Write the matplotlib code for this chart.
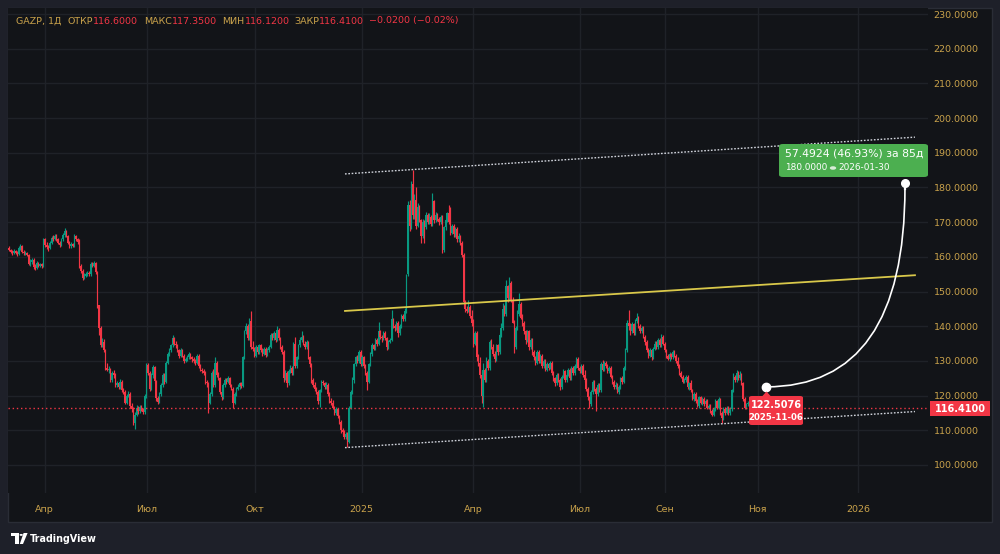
import matplotlib
matplotlib.use("Agg")
import matplotlib.pyplot as plt
from matplotlib.patches import FancyBboxPatch, Rectangle, Polygon, PathPatch, Circle
from matplotlib.path import Path
import numpy as np

# ---------------- data (daily GAZP candles) ----------------
opens = [
162.6,162.0,161.5,161.0,161.8,161.2,160.8,162.5,163.2,161.5,
161.0,161.2,160.5,158.0,158.5,159.2,157.0,156.8,158.2,157.5,
157.8,157.5,165.0,163.5,162.8,162.5,164.0,165.5,165.2,166.0,
165.0,164.0,163.5,165.0,166.2,167.5,166.0,164.0,163.0,163.6,
163.2,166.0,165.0,164.5,157.5,156.0,154.0,154.5,155.0,155.3,
155.0,158.0,157.5,158.2,155.5,146.0,139.5,134.5,135.5,133.0,
128.0,127.5,127.5,124.5,126.5,126.0,123.0,123.5,122.5,124.0,
121.5,121.0,118.0,120.0,120.5,117.0,116.0,112.0,114.5,116.5,
115.5,116.8,116.0,115.2,119.8,128.8,126.5,122.0,125.8,128.3,
124.2,119.2,118.2,120.5,123.0,126.0,124.0,129.5,132.0,133.0,
134.5,136.5,135.0,134.5,133.0,131.5,133.0,131.5,130.0,130.5,
131.0,132.0,131.0,130.5,130.0,129.5,131.5,128.5,127.5,127.0,
126.5,124.0,123.5,118.0,120.5,126.5,123.0,129.5,126.0,125.0,
121.0,119.5,123.0,124.5,124.0,125.0,123.0,122.0,118.0,120.5,
122.0,122.5,123.5,122.8,131.0,138.5,140.0,136.5,141.5,134.0,
133.5,131.5,134.0,132.5,134.5,133.0,132.0,133.5,131.8,133.0,
134.0,137.5,136.5,138.0,136.0,139.0,136.5,134.0,132.5,125.0,
126.5,123.5,127.0,128.0,126.5,135.0,128.5,131.0,134.5,136.0,
137.0,135.0,134.0,135.5,131.0,129.0,124.5,123.0,122.0,121.0,
118.5,121.5,124.0,123.5,122.5,123.0,120.5,118.5,118.0,116.5,
115.0,116.0,114.0,112.5,110.0,109.5,108.0,109.0,106.5,116.5,
121.0,124.5,129.0,131.0,130.0,132.5,129.0,131.0,128.5,126.5,
124.0,129.0,132.0,134.5,133.5,136.0,135.0,138.5,137.0,136.5,
138.0,136.5,134.0,135.5,136.0,142.0,140.0,139.5,141.0,138.0,
140.0,143.0,142.0,144.5,155.0,175.0,169.0,181.0,172.0,176.5,
169.0,174.5,170.5,166.0,170.0,168.5,172.0,170.0,171.5,169.5,
176.0,170.5,172.0,171.0,170.0,171.5,162.0,168.5,170.5,172.5,
170.0,167.0,169.0,166.5,168.0,165.0,166.0,164.0,160.5,147.0,
145.0,144.5,145.5,143.0,141.0,135.0,138.0,131.0,129.5,126.0,
120.0,127.5,124.5,130.0,128.0,135.5,134.0,132.0,130.5,134.5,
132.5,137.5,139.5,145.0,143.5,151.5,148.0,152.5,147.5,141.0,
134.0,139.5,143.5,146.5,142.5,141.0,138.5,136.0,138.5,134.0,
136.0,132.5,131.0,129.5,132.5,130.0,131.5,128.5,130.0,127.5,
129.0,128.0,129.5,126.5,125.0,123.5,126.0,124.5,122.5,125.5,
127.0,124.5,126.0,127.5,125.0,128.0,126.5,128.5,130.5,128.0,
127.0,128.5,126.0,124.5,122.0,119.5,117.5,121.0,124.0,122.0,
120.5,123.0,121.5,129.0,127.5,129.5,128.5,127.0,128.0,125.5,
124.0,122.5,123.0,121.0,122.5,125.0,124.0,128.0,133.0,141.0,
140.0,138.5,140.5,138.0,141.5,142.5,140.0,138.5,139.5,137.0,
135.5,133.0,131.5,133.0,131.0,133.5,135.0,134.0,136.0,134.5,
137.0,135.0,133.0,131.5,130.5,132.0,131.0,132.5,131.5,130.0,
128.5,126.5,125.5,124.0,124.5,125.5,122.5,123.5,121.5,119.0,
120.5,118.5,117.0,119.5,118.0,119.0,117.5,118.5,116.5,117.0,
115.5,114.5,116.0,118.5,116.5,119.0,115.0,113.5,116.0,115.0,
116.5,115.0,116.0,121.5,125.5,124.5,126.5,125.0,126.0,123.5,
119.0,116.5,117.5,118.0,116.6]

highs = [
163.0,162.4,161.9,162.3,162.0,161.6,163.0,163.7,163.4,161.9,
161.8,161.5,160.8,159.3,159.8,159.6,157.8,158.7,158.6,158.3,
158.2,165.5,165.4,164.2,163.3,164.5,166.0,166.2,166.5,166.6,
165.4,164.5,165.5,166.8,168.3,167.8,166.4,164.5,164.2,164.0,
166.6,166.3,165.4,165.0,158.0,156.5,155.2,155.6,155.8,155.8,
158.5,158.6,158.8,158.6,155.8,146.2,140.0,136.5,136.2,133.5,
129.5,128.4,128.0,127.0,127.3,126.5,124.2,124.0,124.8,124.5,
122.3,121.5,120.6,121.2,121.0,117.8,116.6,115.2,117.4,117.0,
117.4,117.2,116.5,120.5,129.3,129.5,127.0,126.5,128.8,128.6,
124.6,120.0,121.0,123.5,126.6,126.4,130.0,132.5,133.7,135.0,
137.5,136.8,135.6,135.0,133.5,133.6,133.4,132.0,131.2,131.6,
132.6,132.4,131.5,131.0,130.5,132.0,132.0,129.0,128.0,127.6,
127.0,124.6,124.0,121.0,127.0,127.8,131.0,130.0,126.8,125.5,
121.6,123.5,125.2,125.0,125.6,125.4,123.4,122.5,121.0,122.6,
123.2,124.0,124.0,131.5,139.0,141.0,140.6,142.3,144.4,135.8,
134.0,134.6,134.5,135.0,135.0,133.6,134.0,134.0,133.6,134.5,
138.0,138.0,138.6,138.4,140.2,139.5,137.0,134.6,133.0,127.5,
127.0,127.6,128.8,128.5,135.5,137.0,131.5,135.0,136.8,138.6,
137.5,135.6,136.0,135.8,131.5,129.5,125.0,123.8,122.6,121.5,
122.0,124.5,124.6,124.0,123.8,123.5,121.0,119.2,118.6,117.0,
116.8,116.4,114.5,113.0,110.8,110.0,109.6,109.5,117.0,121.7,
125.4,129.4,131.5,131.6,133.0,133.0,131.6,131.5,129.0,127.0,
129.5,132.5,135.2,135.0,136.5,136.6,141.2,139.0,137.5,138.6,
138.6,137.0,136.0,136.6,144.7,142.5,140.5,141.6,141.4,140.6,
143.6,143.6,145.3,155.0,176.0,176.5,182.0,185.0,178.0,180.0,
175.5,175.0,171.0,171.0,170.6,172.8,172.6,172.5,172.0,178.3,
176.5,173.0,172.6,171.6,172.0,172.0,169.0,171.0,173.0,175.0,
174.5,169.6,169.4,168.6,168.5,166.8,166.4,164.5,161.0,147.6,
145.8,147.6,146.0,144.7,142.0,138.5,138.5,132.0,131.0,127.0,
129.3,128.0,131.0,130.5,136.0,136.2,135.0,132.8,135.0,135.0,
138.0,141.0,146.6,146.0,153.3,152.0,154.2,153.0,148.5,141.8,
140.0,144.7,149.5,147.0,143.5,141.5,139.0,139.0,139.0,136.6,
136.5,133.0,131.5,133.0,133.0,132.0,132.0,130.6,130.5,129.6,
129.5,130.0,130.0,127.0,125.5,126.5,126.4,125.0,126.0,127.6,
127.5,126.5,128.0,128.0,128.6,128.5,129.0,131.0,131.0,128.6,
129.0,129.0,127.4,125.0,122.5,120.0,121.6,124.6,124.5,122.6,
123.6,123.5,129.7,130.3,130.0,130.0,129.0,128.6,128.5,126.0,
124.6,123.8,123.5,123.0,125.5,125.6,128.6,133.6,141.8,144.7,
141.0,141.2,141.0,142.0,143.8,143.0,140.6,140.2,140.0,137.6,
136.0,133.7,133.7,133.5,134.0,135.6,135.6,136.5,136.6,137.8,
137.5,135.5,133.5,132.0,132.6,132.4,133.0,133.0,132.0,131.0,
129.0,127.0,126.0,125.0,126.0,126.0,124.0,124.5,122.0,121.0,
121.0,119.0,120.0,120.0,119.6,119.5,119.0,119.0,117.6,117.5,
116.0,116.6,119.0,118.8,119.6,119.3,115.6,116.6,116.6,117.0,
117.0,116.6,122.0,126.5,126.0,127.4,127.0,127.0,126.5,124.0,
119.6,118.0,118.5,118.2,117.35]

lows = [
161.6,161.0,160.6,160.7,160.8,160.3,160.5,162.0,161.0,160.6,
160.5,160.1,157.6,157.5,158.0,156.5,156.2,156.5,157.1,157.0,
156.9,157.2,162.9,162.2,161.8,162.2,163.7,164.6,164.8,164.6,
163.6,162.8,163.0,164.7,165.8,165.6,163.6,162.5,162.6,162.8,
162.9,164.6,163.6,156.8,155.4,153.3,153.6,154.1,154.6,154.4,
154.6,157.0,157.2,155.0,145.2,137.5,134.0,134.0,132.6,127.4,
127.0,126.6,123.8,124.0,125.2,122.4,122.6,121.8,122.0,121.0,
120.4,117.5,117.6,119.5,116.4,115.3,111.5,110.3,114.0,114.8,
115.0,115.5,114.6,114.8,119.2,125.8,121.4,121.5,125.0,123.6,
118.5,117.6,117.9,120.0,122.6,123.4,123.6,129.0,131.4,132.5,
134.0,134.5,133.8,132.5,130.8,131.0,131.0,129.4,129.6,130.0,
130.5,130.5,129.8,129.4,128.8,129.0,128.0,127.0,126.5,125.8,
123.4,122.6,115.0,117.5,120.0,122.4,122.5,125.4,124.4,120.4,
118.8,119.0,122.5,123.3,123.5,122.4,121.5,116.5,117.5,120.0,
121.6,122.0,122.3,122.4,130.5,137.8,136.0,136.0,133.4,132.8,
131.0,131.0,132.0,132.0,132.5,131.3,131.6,131.2,131.3,132.6,
133.6,136.0,136.0,135.5,135.6,136.0,133.5,132.0,124.0,124.5,
122.6,123.0,126.4,126.0,126.0,128.0,128.0,130.6,134.0,135.4,
134.5,133.4,133.5,130.5,128.2,123.6,122.4,121.4,120.5,117.5,
116.7,121.0,123.0,122.0,122.0,120.0,118.0,117.4,116.0,114.3,
114.5,113.5,111.8,109.3,108.6,107.4,107.5,105.3,106.2,116.0,
120.5,123.6,128.5,129.4,129.5,128.4,128.6,128.0,125.8,121.7,
123.5,128.5,131.5,133.0,133.0,134.2,134.6,136.4,135.5,136.0,
136.0,133.0,133.5,135.2,135.6,139.5,138.5,139.0,137.0,137.5,
139.5,141.5,141.6,143.8,154.5,167.5,168.0,171.0,171.0,168.0,
168.5,170.0,164.0,165.5,163.9,168.0,169.4,169.5,168.8,169.0,
169.8,170.0,170.4,169.3,169.5,161.0,161.5,167.8,170.0,169.5,
166.3,166.5,165.8,165.8,164.4,164.4,163.4,160.0,145.6,144.0,
143.7,144.0,142.4,140.0,134.0,134.5,130.0,128.5,125.0,117.8,
116.8,123.8,124.0,127.4,127.5,133.4,131.3,129.8,130.0,131.8,
132.0,137.0,139.0,142.8,143.0,147.0,147.5,147.0,140.8,132.2,
133.5,139.0,143.0,142.0,140.0,137.8,135.0,135.5,133.2,133.4,
131.8,130.3,128.8,129.0,129.5,129.4,128.0,128.0,127.0,127.0,
127.4,127.6,126.0,124.3,122.8,123.0,124.0,121.7,122.0,125.0,
124.0,123.8,125.6,124.5,124.6,126.0,126.0,128.0,127.5,126.4,
126.5,125.5,124.0,121.4,118.8,116.5,117.0,120.5,121.4,115.5,
120.0,121.0,121.0,127.0,127.0,128.0,126.5,126.5,125.0,123.4,
122.0,121.8,120.7,120.5,122.0,123.4,123.6,127.5,132.5,139.0,
137.5,138.0,137.5,137.6,141.0,139.5,138.0,138.0,136.5,134.5,
132.5,130.8,131.0,130.3,130.6,133.0,133.4,133.5,134.0,134.0,
134.5,132.5,130.8,130.3,130.0,130.5,130.6,131.0,129.5,128.0,
126.0,125.0,123.5,123.5,124.0,122.0,121.7,121.0,118.8,118.5,
118.0,116.7,116.5,117.5,117.4,117.0,117.0,116.0,116.0,115.0,
114.0,114.0,115.6,116.0,116.0,114.5,112.0,113.0,114.5,114.6,
114.5,114.5,115.5,121.0,124.0,124.0,124.5,124.5,123.0,118.5,
116.0,116.0,117.0,116.2,116.12]

closes = [
162.0,161.5,161.0,161.8,161.2,160.8,162.5,163.2,161.5,161.0,
161.2,160.5,158.0,158.5,159.2,157.0,156.8,158.2,157.5,157.8,
157.3,165.0,163.5,162.8,162.5,164.0,165.5,165.2,166.0,165.0,
164.0,163.5,165.0,166.2,167.5,166.0,164.0,163.0,163.6,163.2,
166.0,165.0,164.2,157.5,156.0,154.0,154.5,155.0,155.3,155.0,
158.0,157.5,158.2,155.5,146.0,139.5,134.5,135.5,133.0,128.0,
127.5,127.5,124.5,126.5,126.0,123.0,123.5,122.5,124.0,121.5,
121.0,118.0,120.0,120.5,117.0,116.0,112.0,114.5,116.5,115.5,
116.8,116.0,115.2,119.8,128.8,126.5,122.0,125.8,128.3,124.2,
119.2,118.2,120.5,123.0,126.0,124.0,129.5,132.0,133.0,134.5,
136.5,135.0,134.5,133.0,131.5,133.0,131.5,130.0,130.5,131.0,
132.0,131.0,130.5,130.0,129.5,131.5,128.5,127.5,127.0,126.5,
124.0,123.5,118.0,120.5,126.5,123.0,129.5,126.0,125.0,121.0,
119.5,123.0,124.5,124.0,125.0,123.0,122.0,118.0,120.5,122.0,
122.5,123.5,122.8,131.0,138.5,140.0,136.5,141.5,134.0,133.5,
131.5,134.0,132.5,134.5,133.0,132.0,133.5,131.8,133.0,134.0,
137.5,136.5,138.0,136.0,139.0,136.5,134.0,132.5,125.0,126.5,
123.5,127.0,128.0,126.5,135.0,128.5,131.0,134.5,136.0,137.0,
135.0,134.0,135.5,131.0,129.0,124.5,123.0,122.0,121.0,118.5,
121.5,124.0,123.5,122.5,123.0,120.5,118.5,118.0,116.5,115.0,
116.0,114.0,112.5,110.0,109.5,108.0,109.0,106.5,116.5,121.0,
124.5,129.0,131.0,130.0,132.5,129.0,131.0,128.5,126.5,124.0,
129.0,132.0,134.5,133.5,136.0,135.0,138.5,137.0,136.5,138.0,
136.5,134.0,135.5,136.0,142.0,140.0,139.5,141.0,138.0,140.0,
143.0,142.0,144.5,154.5,175.0,169.0,181.0,172.0,176.5,169.0,
174.5,170.5,166.0,170.0,168.5,172.0,170.0,171.5,169.5,176.0,
170.5,172.0,171.0,170.0,171.5,162.0,168.5,170.5,172.5,170.0,
167.0,169.0,166.5,168.0,165.0,166.0,164.0,160.5,147.0,145.0,
144.5,145.5,143.0,141.0,135.0,138.0,131.0,129.5,126.0,120.0,
127.5,124.5,130.0,128.0,135.5,134.0,132.0,130.5,134.5,132.5,
137.5,139.5,145.0,143.5,151.5,148.0,152.5,147.5,141.0,134.0,
139.5,143.5,146.5,142.5,141.0,138.5,136.0,138.5,134.0,136.0,
132.5,131.0,129.5,132.5,130.0,131.5,128.5,130.0,127.5,129.0,
128.0,129.5,126.5,125.0,123.5,126.0,124.5,122.5,125.5,127.0,
124.5,126.0,127.5,125.0,128.0,126.5,128.5,130.5,128.0,127.0,
128.5,126.0,124.5,122.0,119.5,117.5,121.0,124.0,122.0,120.5,
123.0,121.5,129.0,127.5,129.5,128.5,127.0,128.0,125.5,124.0,
122.5,123.0,121.0,122.5,125.0,124.0,128.0,133.0,141.0,140.0,
138.5,140.5,138.0,141.5,142.5,140.0,138.5,139.5,137.0,135.5,
133.0,131.5,133.0,131.0,133.5,135.0,134.0,136.0,134.5,137.0,
135.0,133.0,131.5,130.5,132.0,131.0,132.5,131.5,130.0,128.5,
126.5,125.5,124.0,124.5,125.5,122.5,123.5,121.5,119.0,120.5,
118.5,117.0,119.5,118.0,119.0,117.5,118.5,116.5,117.0,115.5,
114.5,116.0,118.5,116.5,119.0,115.0,113.5,116.0,115.0,116.5,
115.0,116.0,121.5,125.5,124.5,126.5,125.0,126.0,123.5,119.0,
116.5,117.5,118.0,116.6,116.41]

price_ticks = [100, 110, 120, 130, 140, 150, 160, 170, 180, 190, 200, 210, 220, 230]
time_tick_pos = [21.8, 84.2, 150.5, 215.7, 283.8, 349.2, 401.2, 457.9, 519.5]   # bar index
time_tick_labels = ['Апр', 'Июл', 'Окт', '2025', 'Апр', 'Июл', 'Сен', 'Ноя', '2026']

channel_x = [205.5, 554.1]          # bar index of the drawn lines' ends
channel_upper = [183.9, 194.5]
channel_lower = [105.0, 115.4]
yellow_y = [144.4, 154.7]

last_price = 116.41
measure_start = (463.0, 122.5076)    # 2025-11-06
measure_end = (548.0, 180.0)         # 2026-01-30
measure_line1 = '57.4924 (46.93%) за 85д'
measure_price = '180.0000'
measure_date = '2026-01-30'
start_price_txt = '122.5076'
start_date_txt = '2025-11-06'

header = [('GAZP, 1Д', 'g', 16), ('ОТКР', 'g', 67), ('116.6000', 'r', 93),
          ('МАКС', 'g', 144), ('117.3500', 'r', 172), ('МИН', 'g', 222),
          ('116.1200', 'r', 245), ('ЗАКР', 'g', 294), ('116.4100', 'r', 319),
          ('−0.0200 (−0.02%)', 'r', 369)]

# ---------------- style ----------------
W, H = 1000, 554
OUTER = '#1e2029'
PANEL = '#121418'
GRID = '#1f2228'
GOLD = '#c9a24b'
RED = '#f23645'
TEAL = '#089981'
GREEN_BOX = '#4caf50'

plt.rcParams['font.family'] = ['DejaVu Sans']

fig = plt.figure(figsize=(W / 100, H / 100), dpi=100, facecolor=OUTER)


def fx(px):
    return px / W


def fy(py):
    return 1 - py / H


# chart panel (behind the axes)
fig.patches.append(Rectangle((fx(8), fy(522)), fx(992) - fx(8), fy(8) - fy(522),
                             transform=fig.transFigure, facecolor=PANEL,
                             edgecolor='#2a2d36', linewidth=1, zorder=-10))

PL, PR, PT, PB = 8, 928, 8, 493
ax = fig.add_axes([fx(PL), fy(PB), fx(PR) - fx(PL), fy(PT) - fy(PB)])
ax.set_facecolor(PANEL)
ax.set_zorder(1)
for s in ax.spines.values():
    s.set_visible(False)

ppb = 1.635  # pixels per bar in the reference
ax.set_xlim((PL - 9) / ppb, (PR - 9) / ppb)
ax.set_ylim(230 - (PB - 14) / 3.469, 230 + (14 - PT) / 3.469)

ax.set_yticks(price_ticks)
ax.set_yticklabels([f'{v:.4f}' for v in price_ticks])
ax.yaxis.tick_right()
ax.tick_params(axis='y', length=0, pad=4, labelcolor=GOLD, labelsize=6.8)
ax.set_xticks(time_tick_pos)
ax.set_xticklabels(time_tick_labels)
ax.tick_params(axis='x', length=0, pad=9, labelcolor=GOLD, labelsize=6.8)
ax.grid(True, color=GRID, linewidth=1)
ax.set_axisbelow(True)

# candles
o = np.array(opens)
h = np.array(highs)
l = np.array(lows)
c = np.array(closes)
x = np.arange(len(c))
cols = np.where(c >= o, TEAL, RED)
ax.vlines(x, l, h, colors=cols, linewidth=0.85, zorder=3)
body_lo = np.minimum(o, c)
body_h = np.maximum(np.abs(c - o), 0.3)
ax.bar(x, body_h, bottom=body_lo, width=0.85, color=cols, linewidth=0, zorder=3)

# drawings
ax.plot(channel_x, channel_upper, color='#d1d4dc', linewidth=1, linestyle=(0, (1.2, 1.2)), zorder=4)
ax.plot(channel_x, channel_lower, color='#d1d4dc', linewidth=1, linestyle=(0, (1.2, 1.2)), zorder=4)
ax.plot(channel_x, yellow_y, color='#d9c84a', linewidth=1.3, zorder=4)
ax.axhline(last_price, color=RED, linewidth=1, linestyle=(0, (1, 2)), zorder=4)

# projection curve
x0, y0 = measure_start
x1, y1 = measure_end
curve = Path([(x0, y0), (x1, y0), (x1, y1)], [Path.MOVETO, Path.CURVE3, Path.CURVE3])
ax.add_patch(PathPatch(curve, facecolor='none', edgecolor='white', linewidth=1.2, zorder=6))
ax.plot([x0], [y0], marker='o', markersize=6, color='white', zorder=7)
ax.plot([x1], [y1 + 1.2], marker='o', markersize=5.5, color='white', zorder=7)
ax.plot([x1, x1], [y1 - 0.4, y1 + 1.2], color='white', linewidth=1.6, zorder=7)

# ---- figure-level labels ----
# price tag on axis
fig.patches.append(Rectangle((fx(930), fy(416)), fx(990) - fx(930), fy(401) - fy(416),
                             transform=fig.transFigure, facecolor=RED, edgecolor='none', zorder=5))
fig.text(fx(960), fy(408.5), f'{last_price:.4f}', color='white', fontsize=7, fontweight='bold',
         ha='center', va='center', zorder=6)

# start label (red)
fig.patches.append(FancyBboxPatch((fx(749), fy(425)), fx(803) - fx(749), fy(396) - fy(425),
                                  boxstyle='round,pad=0,rounding_size=0.003',
                                  transform=fig.transFigure, facecolor=RED, edgecolor='none', zorder=5))
fig.patches.append(Polygon([(fx(762), fy(396.5)), (fx(766.5), fy(391.5)), (fx(771), fy(396.5))],
                           closed=True, transform=fig.transFigure, facecolor=RED, edgecolor='none', zorder=5))
fig.text(fx(776), fy(404.5), start_price_txt, color='white', fontsize=7, fontweight='bold',
         ha='center', va='center', zorder=6)
fig.text(fx(776), fy(418), start_date_txt, color='white', fontsize=6.2, fontweight='bold',
         ha='center', va='center', zorder=6)

# measure label (green)
fig.patches.append(FancyBboxPatch((fx(779), fy(177)), fx(928) - fx(779), fy(144) - fy(177),
                                  boxstyle='round,pad=0,rounding_size=0.004',
                                  transform=fig.transFigure, facecolor=GREEN_BOX, edgecolor='none', zorder=5))
fig.text(fx(785), fy(154), measure_line1, color='white', fontsize=7.8,
         ha='left', va='center', zorder=6)
fig.text(fx(785), fy(168), measure_price, color='white', fontsize=6.4,
         ha='left', va='center', zorder=6)
fig.patches.append(Circle((fx(833), fy(168)), 3.2 / W, transform=fig.transFigure,
                          facecolor='#d7ecd7', edgecolor='none', zorder=6))
fig.text(fx(838), fy(168), measure_date, color='white', fontsize=6.4,
         ha='left', va='center', zorder=6)

# header
for txt, kind, px in header:
    fig.text(fx(px), fy(21), txt, color=GOLD if kind == 'g' else RED, fontsize=6.8,
             ha='left', va='center', zorder=6)

# TradingView logo
fig.patches.append(Polygon([(fx(11), fy(533)), (fx(18.5), fy(533)), (fx(18.5), fy(544)),
                            (fx(15.3), fy(544)), (fx(15.3), fy(536.3)), (fx(11), fy(536.3))],
                           closed=True, transform=fig.transFigure, facecolor='white', edgecolor='none'))
fig.patches.append(Circle((fx(21.2), fy(534.9)), 1.7 / W, transform=fig.transFigure,
                          facecolor='white', edgecolor='none'))
fig.patches.append(Polygon([(fx(23.6), fy(533)), (fx(27.6), fy(533)), (fx(23.0), fy(544)),
                            (fx(19.8), fy(544))],
                           closed=True, transform=fig.transFigure, facecolor='white', edgecolor='none'))
fig.text(fx(29.5), fy(538.5), 'TradingView', color='white', fontsize=6.9, fontweight='bold',
         ha='left', va='center')

fig.savefig('out.png', dpi=100, facecolor=OUTER)
